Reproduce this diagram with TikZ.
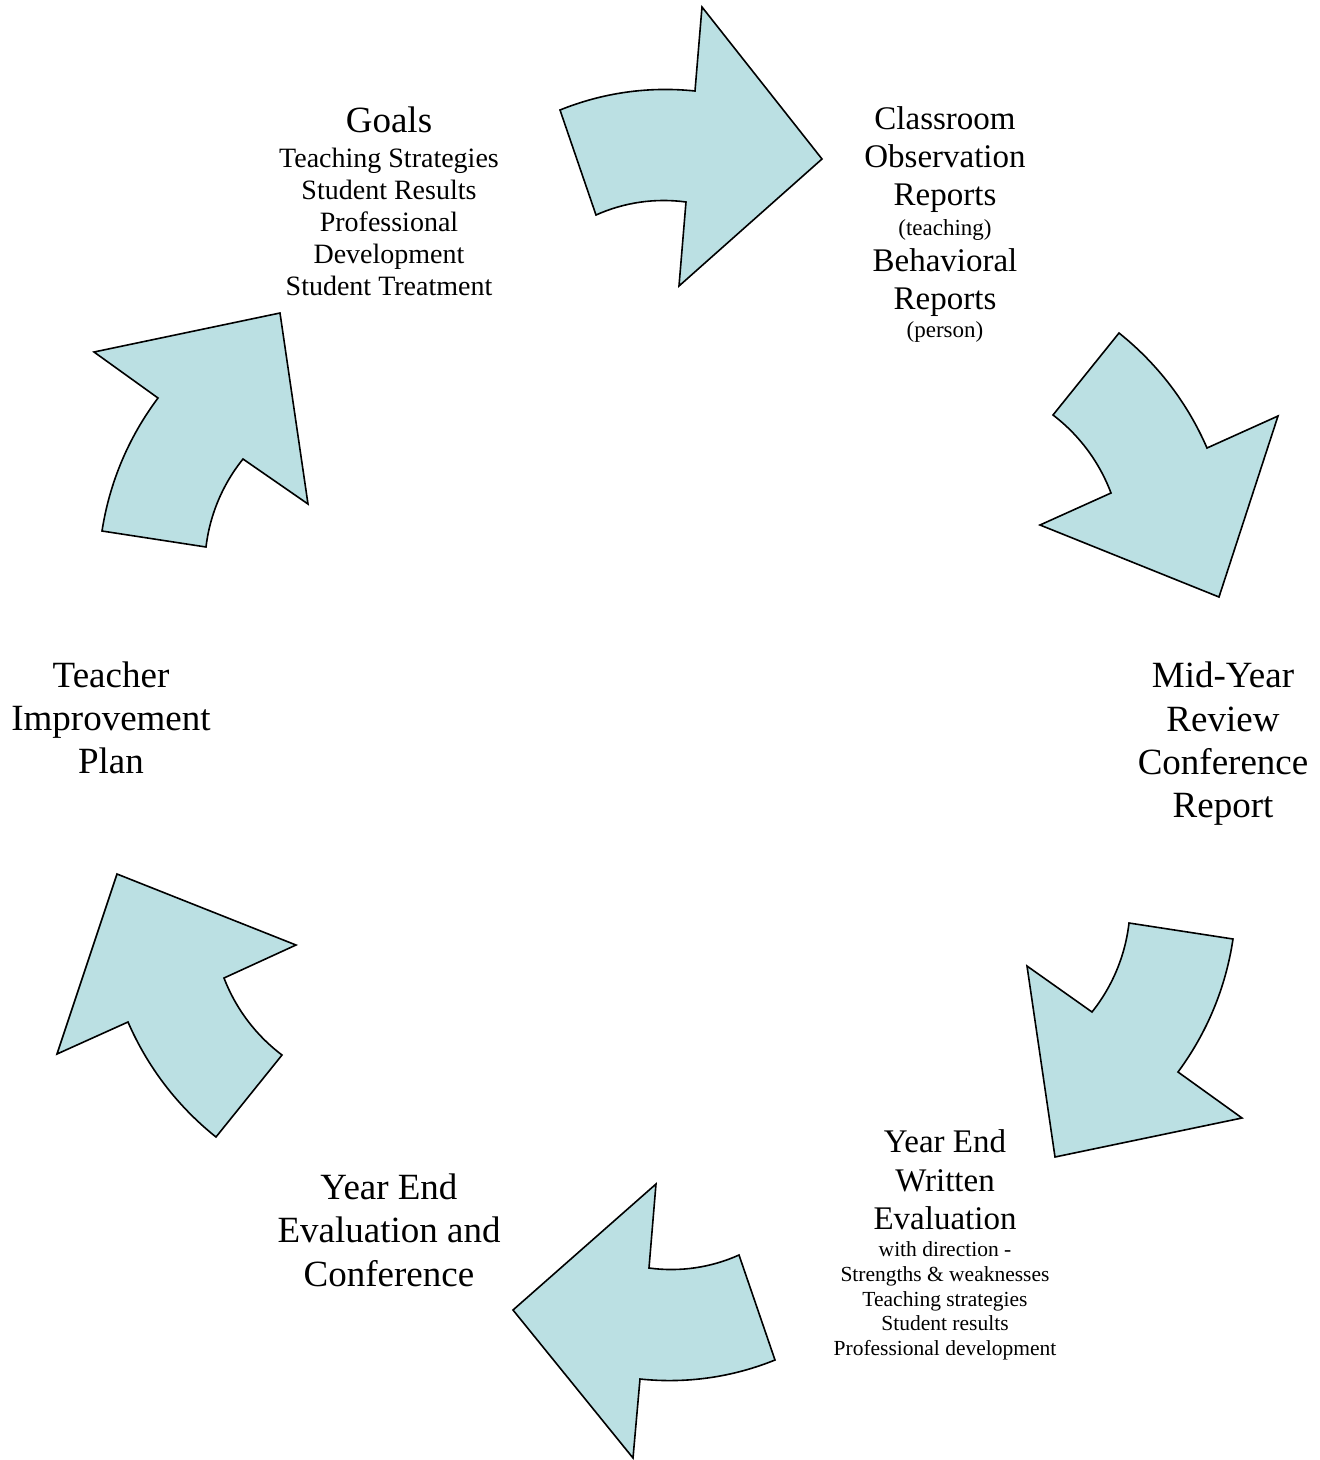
\documentclass[tikz,border=0pt]{standalone}
\usepackage{fontspec}
\setmainfont{Liberation Serif}
\definecolor{arrowfill}{RGB}{187,224,227}
\begin{document}
\begin{tikzpicture}[x=1pt,y=-1pt,
  arr/.style={fill=arrowfill, draw=black, line width=1.6pt, line join=miter},
  ob/.style={bend left=14, looseness=0.87},
  ib/.style={bend right=16, looseness=0.87},
  big/.style={font=\fontsize{37}{44}\selectfont, anchor=base, inner sep=0pt},
  mid/.style={font=\fontsize{33}{38}\selectfont, anchor=base, inner sep=0pt},
  sub/.style={font=\fontsize{28}{32}\selectfont, anchor=base, inner sep=0pt},
  small/.style={font=\fontsize{23}{26}\selectfont, anchor=base, inner sep=0pt},
  tiny/.style={font=\fontsize{21.5}{25}\selectfont, anchor=base, inner sep=0pt}]
\useasboundingbox (0,0) rectangle (1320,1460);

% arrows
\draw[arr] (560,110) to[ob] (695,91) -- (702,7) -- (822,159) -- (679,286) -- (686,202) to[ib] (596,215) -- cycle;
\draw[arr] (1119,333) to[ob] (1207,448) -- (1278,416) -- (1219,597) -- (1040,525) -- (1111,493) to[ib] (1053,415) -- cycle;
\draw[arr] (1233,939) to[ob] (1178,1072) -- (1242,1118) -- (1055,1157) -- (1027,966) -- (1092,1012) to[ib] (1129,923) -- cycle;
\draw[arr] (775,1360) to[ob] (640,1379) -- (633,1458) -- (513,1310) -- (656,1184) -- (649,1268) to[ib] (739,1255) -- cycle;
\draw[arr] (216,1137) to[ob] (128,1022) -- (57,1054) -- (117,874) -- (296,945) -- (224,978) to[ib] (282,1055) -- cycle;
\draw[arr] (102,531) to[ob] (158,398) -- (94,352) -- (280,313) -- (308,504) -- (243,459) to[ib] (206,547) -- cycle;

% Goals
\node[big] (g1) at (389,132) {Goals};
\node[sub] (g2) at (389,167) {Teaching Strategies};
\node[sub] (g3) at (389,199) {Student Results};
\node[sub] (g4) at (389,231) {Professional};
\node[sub] (g5) at (389,263) {Development};
\node[sub] (g6) at (389,295) {Student Treatment};

% Classroom observation
\node[mid] (c1) at (945,129) {Classroom};
\node[mid] (c2) at (945,167) {Observation};
\node[mid] (c3) at (945,205) {Reports};
\node[small] (c4) at (945,235) {(teaching)};
\node[mid] (c5) at (945,271.5) {Behavioral};
\node[mid] (c6) at (945,309) {Reports};
\node[small] (c7) at (945,337.5) {(person)};

% Mid-Year
\node[big] (m1) at (1223,687.5) {Mid-Year};
\node[big] (m2) at (1223,731) {Review};
\node[big] (m3) at (1223,774) {Conference};
\node[big] (m4) at (1223,817.5) {Report};

% Year End Written Evaluation
\node[mid] (w1) at (945,1152.5) {Year End};
\node[mid] (w2) at (945,1191.5) {Written};
\node[mid] (w3) at (945,1229.5) {Evaluation};
\node[tiny] (w4) at (945,1256) {with direction -};
\node[tiny] (w5) at (945,1281) {Strengths \& weaknesses};
\node[tiny] (w6) at (945,1306) {Teaching strategies};
\node[tiny] (w7) at (945,1330) {Student results};
\node[tiny] (w8) at (945,1355.5) {Professional development};

% Year End Evaluation and Conference
\node[big] (y1) at (389,1199) {Year End};
\node[big] (y2) at (389,1242.5) {Evaluation and};
\node[big] (y3) at (389,1286) {Conference};

% Teacher Improvement Plan
\node[big] (t1) at (111,687) {Teacher};
\node[big] (t2) at (111,730) {Improvement};
\node[big] (t3) at (111,773.5) {Plan};
\end{tikzpicture}
\end{document}
